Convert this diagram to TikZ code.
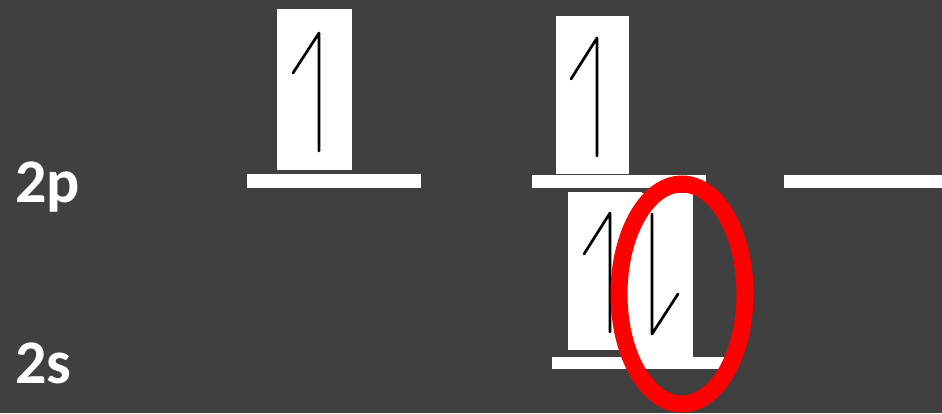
\documentclass[tikz,border=0pt]{standalone}
\usepackage{fontspec}
\setmainfont{Carlito}
\definecolor{bg}{HTML}{404040}
\definecolor{ringred}{HTML}{FF0000}
\tikzset{
  px/.style={x=1pt,y=-1pt},
  card/.style={fill=white,draw=none},
  level/.style={fill=white,draw=none},
  spin/.style={draw=black,line width=2.7pt,line cap=round,line join=round},
  lbl/.style={text=white,font=\fontsize{62}{62}\selectfont\bfseries,inner sep=0pt,anchor=base west},
  ring/.style={draw=ringred,line width=17pt}
}
\begin{document}
\begin{tikzpicture}[px]
\fill[bg] (0,0) rectangle (942,413);
\useasboundingbox (0,0) rectangle (942,413);
% labels
\node[lbl] (l2p) at (15,202) {2p};
\node[lbl] (l2s) at (15,383) {2s};
% 2p orbital 1
\fill[card] (277,9) rectangle (352,170);
\fill[level] (247,174) rectangle (421,188);
\draw[spin] (293,73) -- (319,33) -- (319,151);
% 2p orbital 2
\fill[card] (556,16) rectangle (629,174);
\fill[level] (532,175) rectangle (706,188);
\draw[spin] (571,79) -- (597,38) -- (597,156);
% 2p orbital 3
\fill[level] (784,175) rectangle (942,188);
% 2s orbital
\fill[card] (568,192) rectangle (642,350);
\fill[card] (630,193) rectangle (693,357);
\fill[level] (552,357) rectangle (725,369);
\draw[spin] (584,254) -- (610,213) -- (610,332);
\draw[spin] (652,214) -- (652,334) -- (678,294);
% highlight
\draw[ring] (682,294) ellipse [x radius=63, y radius=110];
\end{tikzpicture}
\end{document}
